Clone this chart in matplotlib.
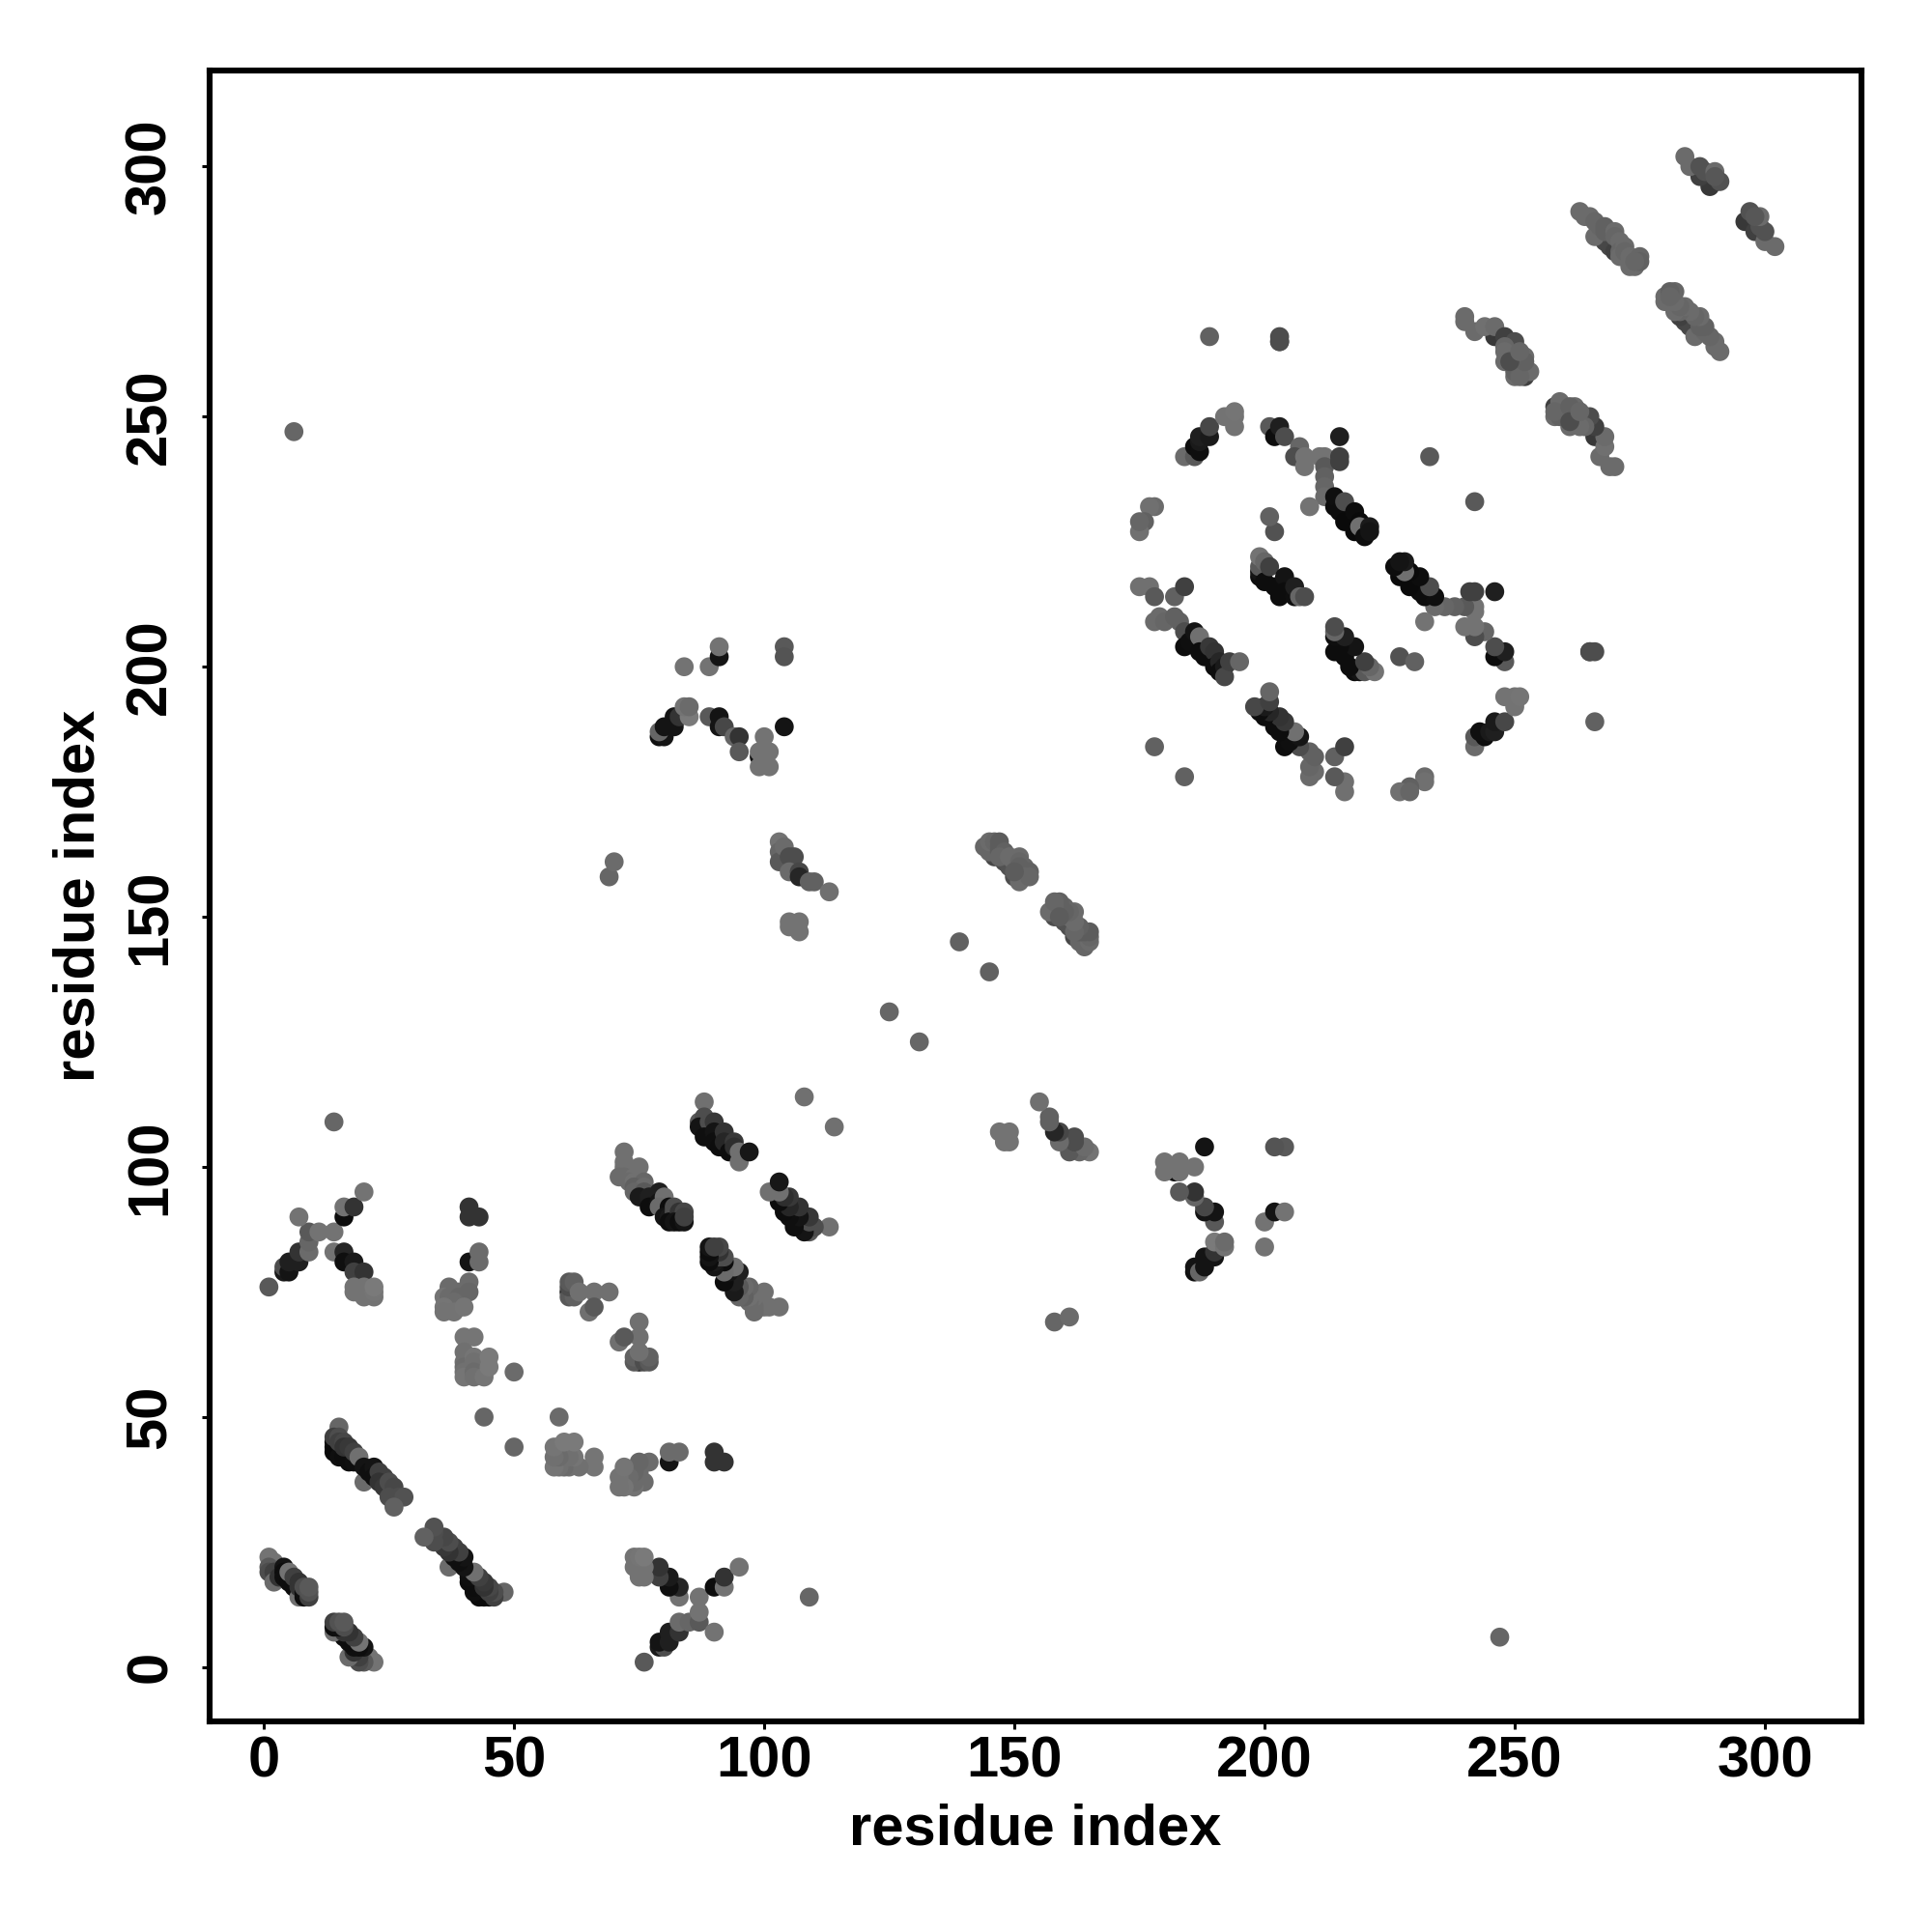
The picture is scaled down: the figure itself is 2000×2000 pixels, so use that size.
import numpy as np
import matplotlib
matplotlib.use('Agg')
import matplotlib.pyplot as plt

plt.rcParams['font.family'] = ['Liberation Sans', 'DejaVu Sans']
plt.rcParams['font.weight'] = 'bold'

# contacts: (residue i, residue j, grey percent), i < j
# the map is symmetric so each one is drawn at (i, j) and (j, i)
hairpin_a = [(1,22,45),(2,21,45),(1,20,35),(1,19,30),(2,19,25),(2,17,42),(3,18,20),(4,20,8),(4,19,5),(4,18,6),
             (5,17,5),(5,19,45),(6,16,5),(6,18,25),(7,15,5),(7,14,44),(7,17,20),(7,16,20),(8,14,5),(8,15,6),
             (8,16,30),(9,14,25),(9,15,32),(9,16,35)]
hairpin_g = [(14,45,6),(14,44,5),(14,43,4),(15,42,6),(16,42,5),(17,41,5),(18,41,6),(15,48,40),(14,46,25),(15,46,30),
             (15,45,25),(16,45,28),(16,44,20),(17,44,22),(18,43,25),(19,42,44),(20,37,42),(20,40,8),(21,39,6),(22,40,8),(22,38,6),
             (23,39,25),(24,38,25),(23,37,20),(24,36,22),(25,37,30),(26,36,28),(25,34,30),(26,33,30),(27,34,30),(28,34,32),(26,32,38)]
arm_b = [(1,76,35),(4,79,10),(4,80,30),(5,79,8),(5,81,12),(7,81,12),(7,83,20),(9,83,42),(9,85,40),(9,87,35),
         (7,90,45),(11,87,45),(14,87,45),(16,90,5),(16,92,45),(18,92,20),(20,95,45),(14,83,45),(16,83,15),(16,81,6),
         (18,81,10),(18,79,25),(20,79,20),(18,75,45),(18,76,45),(20,74,45),(20,76,45),(22,74,45),(22,75,46),(22,76,48)]
col_41 = [(41,92,20),(41,90,20),(43,90,20),(41,81,8),(43,83,42),(43,81,42)]
group_36 = [(41,77,42),(37,76,42),(39,75,42),(41,75,40),(36,74,45),(37,74,42),(39,74,40),(38,73,42),(36,72,46),
            (36,71,45),(38,71,45),(40,72,46)]
group_40 = [(40,66,46),(42,66,46),(40,63,44),(40,61,44),(40,60,42),(40,59,44),(40,58,46),(42,62,46),(42,61,44),
            (42,59,42),(42,58,44),(44,58,46),(45,62,48),(45,60,48),(50,59,42),(44,50,40)]
loop_61 = [(61,75,8),(61,74,35),(62,74,38),(61,76,30),(61,77,35),(62,77,38),(63,75,44),(66,75,44),(69,75,44),
           (65,71,44),(66,72,35)]
strip_c = [(72,103,44),(72,101,44),(72,100,44),(75,100,44),(71,98,42),(72,98,42),(74,98,44),(73,97,42),(74,97,44),
           (76,97,40),(74,96,38),(76,96,42),(74,95,40),(76,95,35),(75,94,10),(77,94,12),(77,92,5),(79,95,12),(79,93,8),
           (80,94,44),(79,92,42),(81,92,5),(80,90,8),(81,90,10),(82,92,30),(82,91,30),(81,89,5),(83,91,20),(84,91,28),
           (82,89,8),(83,89,5),(84,89,8),(84,90,25)]
strip_d = [(88,113,44),(87,109,35),(88,110,30),(87,108,8),(88,107,8),(89,109,30),(90,109,22),(88,106,6),(90,107,8),
           (90,105,6),(91,104,5),(92,107,20),(92,105,15),(93,103,5),(94,105,22),(94,104,18),(95,101,44),(95,103,44),
           (97,103,9)]
arc_80 = [(79,186,6),(80,186,8),(79,187,40),(80,188,8),(82,188,8),(82,190,8),(83,190,20),(85,190,48),(84,192,45),
          (85,192,42),(89,190,35),(91,190,8),(91,188,8),(92,188,28),(94,186,40),(95,186,20),(95,183,35),(99,182,6),
          (100,186,45),(99,183,45),(101,183,45),(99,180,45),(101,180,45),(100,182,45)]
above_arc = [(84,200,45),(89,200,45),(91,202,8),(91,204,45),(104,204,35),(104,202,33),(104,188,8)]
strip_103 = [(103,165,45),(103,163,40),(103,161,35),(104,164,42),(105,162,30),(106,162,30),(105,159,42),(107,159,28),
             (107,158,15),(109,157,38),(110,157,38),(113,155,44),(105,149,45),(107,149,45),(105,148,45),(107,147,45)]
strays = [(6,247,40),(14,109,40),(108,114,44),(69,158,40),(70,161,42),(125,131,40),(139,145,38),(178,184,38),
          (202,227,32),(201,230,38),(233,242,35),(203,265,30),(203,266,30),(265,203,30),(189,266,38)]
strip_145 = [(146,162,28),(148,161,30),(149,160,32),(150,158,30),(144,164,40),(145,163,40),(145,165,42),(146,165,40),
             (147,165,36),(147,164,36),(147,163,36),(148,163,38),(147,162,40),(149,162,42),(150,161,42),(151,162,42),
             (151,161,40),(152,160,40),(151,160,38),(153,159,38),(152,158,40),(151,157,42),(153,158,40),(150,159,36)]
ring_a = [(184,242,42),(186,242,35),(186,244,5),(187,243,6),(187,245,10),(187,246,12),(189,246,10),(189,248,28),
          (192,250,45),(194,248,45),(194,250,45),(194,251,46)]
ring_b = [(201,248,35),(202,246,5),(203,248,12),(204,246,30),(207,244,40),(206,242,30),(208,242,45),(208,240,45),
          (211,242,45),(212,242,45),(215,246,12),(212,240,35),(212,238,38),(212,236,40),(212,234,42),(215,242,25),
          (215,241,25),(209,232,45),(214,232,5),(214,234,6),(215,231,5),(216,233,30),(216,229,4),(218,227,4),
          (218,231,5),(219,229,4),(219,228,44),(220,226,5),(221,228,10),(221,227,8)]
strip_199 = [(199,218,5),(199,219,8),(199,220,35),(199,222,45),(200,221,40),(200,217,5),(201,220,25),(202,216,5),
             (203,214,5),(204,218,8),(204,215,5),(206,214,6),(206,216,12),(207,214,40),(208,214,30)]
side_175 = [(175,216,44),(177,216,44),(178,214,35),(182,214,38),(184,216,25),(178,232,42),(177,232,44),(176,229,38),
            (175,227,44),(175,229,40)]
strip_179 = [(178,209,42),(179,210,42),(180,209,40),(182,210,38),(183,209,38),(184,207,30),(184,204,5),(185,205,6),
             (186,207,8),(187,206,44),(187,203,5),(188,202,5),(189,204,22),(190,203,20),(190,200,5),(191,201,15),
             (191,199,5),(192,200,10),(192,198,28),(193,201,25),(195,201,40)]
strip_240 = [(246,266,22),(252,258,25),(240,270,42),(240,269,42),(242,267,42),(244,268,44),(246,268,42),(248,266,25),
             (250,265,30),(248,264,40),(248,263,42),(248,261,42),(250,258,42),(252,262,42),(253,259,42),(250,259,38),
             (251,258,40),(252,261,38),(249,261,30),(251,263,40)]
strip_263 = [(268,285,28),(269,284,28),(270,283,25),(266,286,42),(263,291,42),(264,290,42),(265,290,42),(266,289,40),
             (267,288,40),(268,287,38),(268,288,38),(270,287,42),(270,286,40),(271,285,42),(271,283,40),(271,282,42),
             (272,284,42),(272,283,40),(273,282,42),(273,281,42),(273,280,42),(274,280,42),(275,282,40),(275,281,38),(274,281,40)]
strip_284 = [(289,296,22),(287,298,25),(284,302,42),(285,300,42),(287,300,32),(288,299,32),(290,299,42),(291,297,32),(290,298,34)]

tick_values = [0, 50, 100, 150, 200, 250, 300]

contacts = (hairpin_a + hairpin_g + arm_b + col_41 + group_36 + group_40 + loop_61 + strip_c + strip_d + arc_80
            + above_arc + strip_103 + strays + strip_145 + ring_a + ring_b + strip_199 + side_175 + strip_179
            + strip_240 + strip_263 + strip_284)
contacts = np.array(contacts, dtype=float)
x = np.concatenate([contacts[:, 0], contacts[:, 1]])
y = np.concatenate([contacts[:, 1], contacts[:, 0]])
grey = np.concatenate([contacts[:, 2], contacts[:, 2]]) / 100

fig = plt.figure(figsize=(10, 10), dpi=200)
ax = fig.add_axes([217/2000, 218/2000, 1710/2000, 1709/2000])

ax.scatter(x, y, s=50, c=grey.astype(str), linewidths=0, zorder=3)

ax.set_xlim(-10.85, 319.3)
ax.set_ylim(-10.85, 319.2)
ax.set_xticks(tick_values)
ax.set_yticks(tick_values)
ax.tick_params(length=3, width=1.1, labelsize=21.5)
ax.tick_params(axis='x', pad=2.3)
ax.tick_params(axis='y', pad=9)
plt.setp(ax.get_yticklabels(), rotation=90, va='center')
for side in ax.spines.values():
    side.set_linewidth(2.2)

ax.set_xlabel('residue index', fontsize=21.5, fontweight='bold', labelpad=5.4)
ax.set_ylabel('residue index', fontsize=21.5, fontweight='bold', labelpad=7)

fig.savefig('out.png', dpi=200)
